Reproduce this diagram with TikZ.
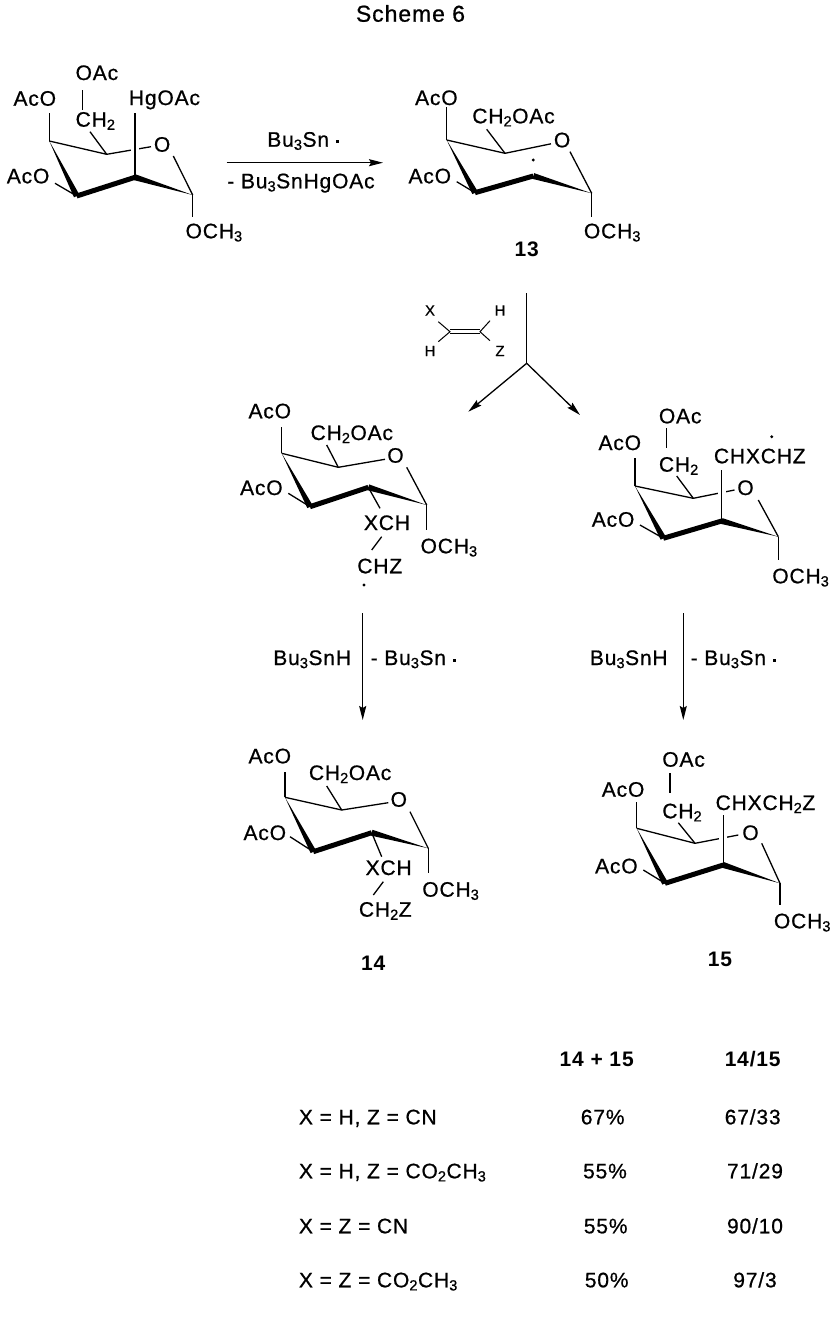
\documentclass[tikz,border=0pt]{standalone}
\usepackage{fontspec}
\setmainfont{Liberation Sans}[LetterSpace=4, UprightFeatures={FakeBold=0.7}]
\usepackage{tikz}
\usetikzlibrary{arrows.meta}
\usetikzlibrary{calc}

\begin{document}
\begin{tikzpicture} [x=1pt, y=-1pt, line width=1.3pt,
  every node/.style={inner sep=0pt, font=\fontsize{21}{25}\selectfont},
  lbl/.style={anchor=base west},
  rlbl/.style={anchor=base east},
  num/.style={anchor=base, font=\fontsize{21}{25}\selectfont\bfseries},
  tinylbl/.style={font=\fontsize{15}{18}\selectfont},
  boldbond/.style={line width=5pt},
  rxn/.style={line width=1.3pt, -{Stealth[length=14pt,width=7pt,inset=2pt]}}]

\useasboundingbox (0,0) rectangle (840,1318);

\node (title) [anchor=base, font=\fontsize{23}{27}\selectfont] at (410.5,21.7) {Scheme 6};

% mercurial
\coordinate (a4) at (49.3,141);
\coordinate (a5) at (106.7,154.3);
\coordinate (a2) at (135,177.3);
\coordinate (a1) at (192.7,195);
\coordinate (a3) at (76.7,196);
\node (aO) [lbl] at (153.3,151.7) {O};
\node (aAcO4) [rlbl] at (56.7,105.7) {AcO};
\node (aAcO3) [rlbl] at (50,183.3) {AcO};
\node (aCH2) [lbl] at (75,126.7) {CH\textsubscript{2}};
\node (aOAc) [lbl] at (75,80) {OAc};
\node (aHg) [lbl] at (128.3,105) {HgOAc};
\node (aOMe) [lbl] at (185,238.3) {OCH\textsubscript{3}};
\draw (a4) -- (a5) -- (151,146.7);
\draw (173.3,156) -- (a1);
\draw (a4) -- (49.3,113.3);
\draw (a3) -- (55,183.3);
\draw (a5) -- (90,131.7);
\draw (82.7,90) -- (82.7,110);
\draw (a1) -- (192.7,216.7);
\draw [white, line width=8pt] ($(a2)+(0,-20)$) -- ($(a2)+(0,-36)$);
\draw (a2) -- (135,113.3);
\draw [boldbond] (a2) -- (a3);
\fill (a4) -- ($(a3)!3pt!90:(a4)$) -- ($(a3)!3pt!-90:(a4)$) -- cycle;
\fill (a1) -- ($(a2)!3pt!90:(a1)$) -- ($(a2)!3pt!-90:(a1)$) -- cycle;

% first arrow
\coordinate (r1s) at (226.7,162.7);
\coordinate (r1e) at (383,162.7);
\draw [rxn] (r1s) -- (r1e);
\node (r1top) [lbl] at (266.7,146.7) {Bu\textsubscript{3}Sn \rule[3.5pt]{3pt}{3pt}};
\node (r1bot) [lbl] at (226.7,188.3) {- Bu\textsubscript{3}SnHgOAc};

% radical 13
\coordinate (b4) at (446.7,140);
\coordinate (b5) at (505,153.3);
\coordinate (b2) at (533.3,176);
\coordinate (b1) at (591.7,193.3);
\coordinate (b3) at (475,192.7);
\node (bO) [lbl] at (553.3,147.3) {O};
\node (bAcO4) [rlbl] at (458.3,105) {AcO};
\node (bAcO3) [rlbl] at (451.7,183.3) {AcO};
\node (bCH2OAc) [lbl] at (471.7,123.3) {CH\textsubscript{2}OAc};
\node (bOMe) [lbl] at (583.3,238.3) {OCH\textsubscript{3}};
\node (b13) [num] at (526.7,256) {13};
\draw (b4) -- (b5) -- (551,143.8);
\draw (570,151.7) -- (b1);
\draw (b4) -- (446.7,106.7);
\draw (b3) -- (456.7,181.7);
\draw (b5) -- (486.7,129.3);
\draw (b1) -- (591.7,216.7);
\draw [boldbond] (b2) -- (b3);
\fill (b4) -- ($(b3)!3pt!90:(b4)$) -- ($(b3)!3pt!-90:(b4)$) -- cycle;
\fill (b1) -- ($(b2)!3pt!90:(b1)$) -- ($(b2)!3pt!-90:(b1)$) -- cycle;
\fill (533.3,160) circle (1.6pt);

% alkene and split arrow
\coordinate (v1) at (450,331.7);
\coordinate (v2) at (480,331.7);
\node (vX) [tinylbl] at (430,310.5) {X};
\node (vH1) [tinylbl] at (430,351) {H};
\node (vH2) [tinylbl] at (500,310.5) {H};
\node (vZ) [tinylbl] at (500,351) {Z};
\draw [line width=1pt] ($(v1)+(0,-2.2)$) -- ($(v2)+(0,-2.2)$);
\draw [line width=1pt] ($(v1)+(0,2.2)$) -- ($(v2)+(0,2.2)$);
\draw [line width=1pt] (438.3,321.7) -- (v1) -- (438.3,341.7);
\draw [line width=1pt] (490,320.7) -- (v2) -- (490,340.7);
\coordinate (r2s) at (526.7,293.3);
\coordinate (r2j) at (526.7,363.3);
\coordinate (r2l) at (468.3,411.7);
\coordinate (r2r) at (580,415);
\draw (r2s) -- (r2j);
\draw [rxn] (r2j) -- (r2l);
\draw [rxn] (r2j) -- (r2r);

% radical adduct, left
\coordinate (c4) at (281.7,453.3);
\coordinate (c5) at (338.3,467.3);
\coordinate (c2) at (368.3,487.3);
\coordinate (c1) at (426.7,505);
\coordinate (c3) at (310,506.7);
\node (cO) [lbl] at (386.7,462.7) {O};
\node (cAcO4) [rlbl] at (291.7,418.3) {AcO};
\node (cAcO3) [rlbl] at (283.3,495) {AcO};
\node (cCH2OAc) [lbl] at (310,440) {CH\textsubscript{2}OAc};
\node (cXCH) [lbl] at (363.3,530) {XCH};
\node (cCHZ) [lbl] at (356.7,573.3) {CHZ};
\node (cOMe) [lbl] at (420,553.3) {OCH\textsubscript{3}};
\draw (c4) -- (c5) -- (385,459.3);
\draw (406.7,467.3) -- (c1);
\draw (c4) -- (281.7,426.7);
\draw (c3) -- (288.3,493.3);
\draw (c5) -- (326.7,445);
\draw (c2) -- (380,508.3);
\draw (381.7,536.7) -- (371.7,550);
\draw (c1) -- (426.7,530);
\draw [boldbond] (c2) -- (c3);
\fill (c4) -- ($(c3)!3pt!90:(c4)$) -- ($(c3)!3pt!-90:(c4)$) -- cycle;
\fill (c1) -- ($(c2)!3pt!90:(c1)$) -- ($(c2)!3pt!-90:(c1)$) -- cycle;
\fill (364,585) circle (1.6pt);

% radical adduct, right
\coordinate (d4) at (635,486);
\coordinate (d5) at (693.3,498.3);
\coordinate (d2) at (721.7,521);
\coordinate (d1) at (778.3,536.7);
\coordinate (d3) at (663.3,538.3);
\node (dO) [lbl] at (736.7,495) {O};
\node (dAcO4) [rlbl] at (641.7,450) {AcO};
\node (dAcO3) [rlbl] at (635,526.7) {AcO};
\node (dCH2) [lbl] at (658.3,471.7) {CH\textsubscript{2}};
\node (dOAc) [lbl] at (658.3,423.3) {OAc};
\node (dCHX) [lbl] at (713.3,463.3) {CHXCHZ};
\node (dOMe) [lbl] at (771.7,583.3) {OCH\textsubscript{3}};
\draw (d4) -- (d5) -- (734.5,490);
\draw (758.3,500) -- (d1);
\draw (d4) -- (635,458.3);
\draw (d3) -- (640,525);
\draw (d5) -- (676.7,476);
\draw (666.7,428.3) -- (666.7,448.3);
\draw (d1) -- (778.3,560);
\draw [white, line width=8pt] ($(d2)+(0,-20)$) -- ($(d2)+(0,-36)$);
\draw (d2) -- (721.7,470);
\draw [boldbond] (d2) -- (d3);
\fill (d4) -- ($(d3)!3pt!90:(d4)$) -- ($(d3)!3pt!-90:(d4)$) -- cycle;
\fill (d1) -- ($(d2)!3pt!90:(d1)$) -- ($(d2)!3pt!-90:(d1)$) -- cycle;
\fill (771.7,436.7) circle (1.6pt);

% reduction arrows
\coordinate (r3s) at (362.7,613.3);
\coordinate (r3e) at (362.7,720);
\coordinate (r4s) at (683.3,613.3);
\coordinate (r4e) at (683.3,720);
\draw [rxn] (r3s) -- (r3e);
\draw [rxn] (r4s) -- (r4e);
\node (r3l) [rlbl] at (351.7,665) {Bu\textsubscript{3}SnH};
\node (r3r) [lbl] at (370,665) {- Bu\textsubscript{3}Sn \rule[3.5pt]{3pt}{3pt}};
\node (r4l) [rlbl] at (668.3,665) {Bu\textsubscript{3}SnH};
\node (r4r) [lbl] at (690,665) {- Bu\textsubscript{3}Sn \rule[3.5pt]{3pt}{3pt}};

% product 14
\coordinate (e4) at (285,797.3);
\coordinate (e5) at (341.7,810);
\coordinate (e2) at (371.7,832.7);
\coordinate (e1) at (428.3,848.3);
\coordinate (e3) at (313.3,851.7);
\node (eO) [lbl] at (390,806.7) {O};
\node (eAcO4) [rlbl] at (291.7,763.3) {AcO};
\node (eAcO3) [rlbl] at (286.7,840) {AcO};
\node (eCH2OAc) [lbl] at (308.3,780) {CH\textsubscript{2}OAc};
\node (eXCH) [lbl] at (365,875) {XCH};
\node (eCH2Z) [lbl] at (358.3,916.7) {CH\textsubscript{2}Z};
\node (eOMe) [lbl] at (421.7,896.7) {OCH\textsubscript{3}};
\node (e14) [num] at (373.3,970) {14};
\draw (e4) -- (e5) -- (388.3,802.7);
\draw (410,811.7) -- (e1);
\draw (e4) -- (285,771.7);
\draw (e3) -- (290,836.7);
\draw (e5) -- (326.7,786);
\draw (e2) -- (381.7,856.7);
\draw (383.3,881.7) -- (373.3,895);
\draw (e1) -- (428.3,873.3);
\draw [boldbond] (e2) -- (e3);
\fill (e4) -- ($(e3)!3pt!90:(e4)$) -- ($(e3)!3pt!-90:(e4)$) -- cycle;
\fill (e1) -- ($(e2)!3pt!90:(e1)$) -- ($(e2)!3pt!-90:(e1)$) -- cycle;

% product 15
\coordinate (f4) at (636.7,828.3);
\coordinate (f5) at (695,843.3);
\coordinate (f2) at (723.3,865);
\coordinate (f1) at (780,883.3);
\coordinate (f3) at (665,883.3);
\node (fO) [lbl] at (741.7,840) {O};
\node (fAcO4) [rlbl] at (645,796.7) {AcO};
\node (fAcO3) [rlbl] at (638.3,873.3) {AcO};
\node (fCH2) [lbl] at (661.7,818.3) {CH\textsubscript{2}};
\node (fOAc) [lbl] at (661.7,766.7) {OAc};
\node (fCHX) [lbl] at (715,810) {CHXCH\textsubscript{2}Z};
\node (fOMe) [lbl] at (773.3,928.3) {OCH\textsubscript{3}};
\node (f15) [num] at (720,966.7) {15};
\draw (f4) -- (f5) -- (738.3,835);
\draw (761.7,843.3) -- (f1);
\draw (f4) -- (636.7,801.7);
\draw (f3) -- (643.3,870);
\draw (f5) -- (678.3,822.7);
\draw (670,773.3) -- (670,793.3);
\draw (f1) -- (780,905);
\draw [white, line width=8pt] ($(f2)+(0,-20)$) -- ($(f2)+(0,-36)$);
\draw (f2) -- (723.3,815);
\draw [boldbond] (f2) -- (f3);
\fill (f4) -- ($(f3)!3pt!90:(f4)$) -- ($(f3)!3pt!-90:(f4)$) -- cycle;
\fill (f1) -- ($(f2)!3pt!90:(f1)$) -- ($(f2)!3pt!-90:(f1)$) -- cycle;

% table
\node (hsum) [num] at (596.7,1066) {14 + 15};
\node (hratio) [num] at (752.7,1066) {14/15};
\node (row1) [lbl] at (298.3,1124.3) {X = H, Z = CN};
\node (row2) [lbl] at (298.3,1178.3) {X = H, Z = CO\textsubscript{2}CH\textsubscript{3}};
\node (row3) [lbl] at (298.3,1233.3) {X = Z = CN};
\node (row4) [lbl] at (298.3,1287.3) {X = Z = CO\textsubscript{2}CH\textsubscript{3}};
\node (yield1) [anchor=base] at (602.7,1124.3) {67\%};
\node (yield2) [anchor=base] at (605,1178.3) {55\%};
\node (yield3) [anchor=base] at (605.7,1233.3) {55\%};
\node (yield4) [anchor=base] at (606.7,1287.3) {50\%};
\node (ratio1) [anchor=base] at (752.7,1124.3) {67/33};
\node (ratio2) [anchor=base] at (755,1178.3) {71/29};
\node (ratio3) [anchor=base] at (755,1233.3) {90/10};
\node (ratio4) [anchor=base] at (755,1287.3) {97/3};

\end{tikzpicture}
\end{document}
